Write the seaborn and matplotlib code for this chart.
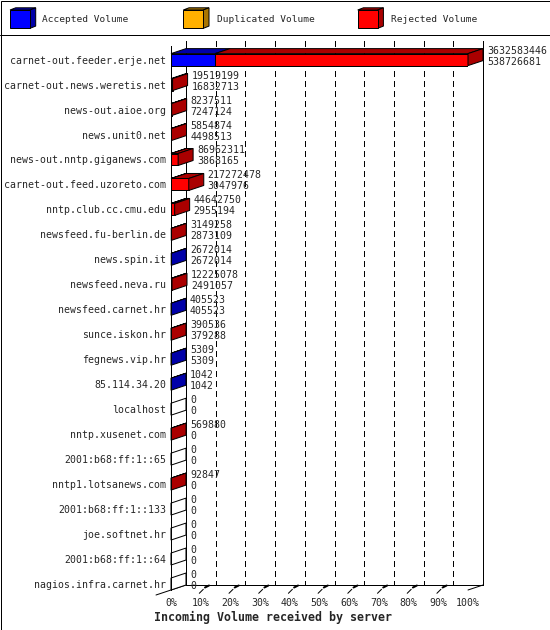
import matplotlib
matplotlib.use("Agg")
import matplotlib.pyplot as plt
from matplotlib.patches import Polygon, Rectangle
from matplotlib.lines import Line2D
import seaborn as sns
import numpy as np

# ---------------- data ----------------
hosts = [
    "carnet-out.feeder.erje.net", "carnet-out.news.weretis.net", "news-out.aioe.org",
    "news.unit0.net", "news-out.nntp.giganews.com", "carnet-out.feed.uzoreto.com",
    "nntp.club.cc.cmu.edu", "newsfeed.fu-berlin.de", "news.spin.it", "newsfeed.neva.ru",
    "newsfeed.carnet.hr", "sunce.iskon.hr", "fegnews.vip.hr", "85.114.34.20", "localhost",
    "nntp.xusenet.com", "2001:b68:ff:1::65", "nntp1.lotsanews.com", "2001:b68:ff:1::133",
    "joe.softnet.hr", "2001:b68:ff:1::64", "nagios.infra.carnet.hr",
]
total_volume = [
    3632583446, 19519199, 8237511, 5854874, 86962311, 217272478, 44642750, 3149258,
    2672014, 12225078, 405523, 390536, 5309, 1042, 0, 569880, 0, 92847, 0, 0, 0, 0,
]
accepted_volume = [
    538726681, 16832713, 7247124, 4498513, 3868165, 3047976, 2955194, 2873109,
    2672014, 2491057, 405523, 379288, 5309, 1042, 0, 0, 0, 0, 0, 0, 0, 0,
]
duplicated_volume = [0] * 22
legend_names = ["Accepted Volume", "Duplicated Volume", "Rejected Volume"]
x_ticks = [0, 10, 20, 30, 40, 50, 60, 70, 80, 90, 100]
title = "Incoming Volume received by server"

# ---------------- style ----------------
W, H = 550, 630
sns.set_style("white")
plt.rcParams["font.family"] = ["DejaVu Sans Mono"]
plt.rcParams["lines.scale_dashes"] = False
MONO = "DejaVu Sans Mono"
FS = 7.1
PX = 0.72  # one pixel in points

front = {"acc": "#0000FF", "dup": "#FFB000", "rej": "#FF0000"}
dark = {"acc": "#0000A8", "dup": "#AA7500", "rej": "#AA0000"}

fig = plt.figure(figsize=(W / 100, H / 100), dpi=100)
fig.patch.set_facecolor("white")

def fx(x):
    return x / W

def fy(y):
    return 1 - y / H

ax_left, ax_right, ax_top, ax_bot = 171, 468, 45.7, 590
ax = fig.add_axes([fx(ax_left), fy(ax_bot), (ax_right - ax_left) / W, (ax_bot - ax_top) / H])
ax.patch.set_alpha(0)

n = len(hosts)
vmax = max(total_volume)
tot_pct = np.array(total_volume) / vmax * 100
acc_pct = np.array(accepted_volume) / vmax * 100
accdup_pct = (np.array(accepted_volume) + np.array(duplicated_volume)) / vmax * 100
bar_h = 0.48

common = dict(y=hosts, orient="h", width=bar_h, edgecolor="black", linewidth=PX,
              errorbar=None, ax=ax, zorder=2, order=hosts)
sns.barplot(x=tot_pct, color=front["rej"], saturation=1, **common)
sns.barplot(x=accdup_pct, color=front["dup"], saturation=1, **common)
sns.barplot(x=acc_pct, color=front["acc"], saturation=1, **common)

ymin_data = -0.557
ymax_data = (n - 1) + bar_h / 2
ax.set_xlim(0, 100)
ax.set_ylim(ymax_data, ymin_data)

# pixel -> data offsets for the 3d depth
ppx = (ax_right - ax_left) / 100.0
ppy = (ax_bot - ax_top) / (ymax_data - ymin_data)
DX = 15 / ppx
DY = -5 / ppy

def px2dx(p):
    return p / ppx

def px2dy(p):
    return p / ppy  # positive = down

# back wall and grid
for t in x_ticks:
    ls = "-" if t in (0, 100) else (0, (3.6, 2.9))
    ax.add_line(Line2D([t + DX, t + DX], [ymin_data + DY, ymax_data + DY], color="black",
                       lw=PX, linestyle=ls, clip_on=False, zorder=0.5, antialiased=False))
# floor
ax.add_line(Line2D([DX, 100 + DX], [ymax_data + DY, ymax_data + DY], color="black", lw=PX,
                   clip_on=False, zorder=0.5))
ax.add_line(Line2D([-DX, DX], [ymax_data - DY, ymax_data + DY], color="black", lw=PX,
                   clip_on=False, zorder=0.5))
ax.add_line(Line2D([100, 100 + DX], [ymax_data, ymax_data + DY], color="black", lw=PX,
                   clip_on=False, zorder=0.5))
for t in x_ticks[1:-1]:
    ax.add_line(Line2D([t - px2dx(1.4), t + px2dx(2.6)], [ymax_data + px2dy(3.3), ymax_data - px2dy(0.7)],
                       color="black", lw=PX, clip_on=False, zorder=0.6))
    ax.add_line(Line2D([t + px2dx(4.3), t + px2dx(8.3)], [ymax_data - px2dy(2.5), ymax_data - px2dy(4.5)],
                       color="black", lw=2 * PX, clip_on=False, zorder=0.6))

# 3d faces
for i in range(n):
    top = i - bar_h / 2
    bot = i + bar_h / 2
    segs = [("acc", 0, acc_pct[i]), ("dup", acc_pct[i], accdup_pct[i]), ("rej", accdup_pct[i], tot_pct[i])]
    last = None
    for key, a, b in segs:
        if b > a:
            last = key
            ax.add_patch(Polygon([(a, top), (b, top), (b + DX, top + DY), (a + DX, top + DY)],
                                 closed=True, facecolor=dark[key], edgecolor="black", lw=PX,
                                 zorder=2.1, clip_on=False))
    end = tot_pct[i]
    side_col = dark[last] if last else "white"
    ax.add_patch(Polygon([(end, top), (end + DX, top + DY), (end + DX, bot + DY), (end, bot)],
                         closed=True, facecolor=side_col, edgecolor="black", lw=PX,
                         zorder=2.2, clip_on=False))
    ax.annotate(str(total_volume[i]), (end, i), xytext=(19, 9), textcoords="offset pixels",
                ha="left", va="center", fontsize=FS, family=MONO, zorder=3, annotation_clip=False)
    ax.annotate(str(accepted_volume[i]), (end, i), xytext=(19, -2), textcoords="offset pixels",
                ha="left", va="center", fontsize=FS, family=MONO, zorder=3, annotation_clip=False)

# axes cosmetics
for s in ["top", "right", "bottom"]:
    ax.spines[s].set_visible(False)
ax.spines["left"].set_linewidth(PX)
ax.spines["left"].set_color("black")
ax.set_xticks(x_ticks)
ax.set_xticklabels([f"{t}%" for t in x_ticks], fontsize=FS, family=MONO)
ax.set_yticks(range(n))
ax.set_yticklabels(hosts, fontsize=FS, family=MONO)
ax.tick_params(axis="x", length=0, pad=5.5)
ax.tick_params(axis="y", length=0, pad=3.6)
ax.set_xlabel("")
ax.set_ylabel("")
ax.grid(False)

# title
fig.text(fx(273.5), fy(617), title, ha="center", va="center", fontsize=8.4,
         family=MONO, weight="bold")

# legend cubes
leg_x = [10, 183.3, 357.7]
leg_tx = [42.3, 216.7, 390.7]
for (key, lx, tx, name) in zip(["acc", "dup", "rej"], leg_x, leg_tx, legend_names):
    x0, x1, y0, y1 = lx, lx + 20, 10, 28.3
    d, e = 5.7, 2.2
    fig.patches.append(Polygon([(fx(x0), fy(y0)), (fx(x1), fy(y0)), (fx(x1 + d), fy(y0 - e)),
                                (fx(x0 + d), fy(y0 - e))], closed=True, facecolor=dark[key],
                               edgecolor="black", lw=PX, transform=fig.transFigure))
    fig.patches.append(Polygon([(fx(x1), fy(y0)), (fx(x1 + d), fy(y0 - e)), (fx(x1 + d), fy(y1 - e)),
                                (fx(x1), fy(y1))], closed=True, facecolor=dark[key],
                               edgecolor="black", lw=PX, transform=fig.transFigure))
    fig.patches.append(Rectangle((fx(x0), fy(y1)), (x1 - x0) / W, (y1 - y0) / H, facecolor=front[key],
                                 edgecolor="black", lw=PX, transform=fig.transFigure))
    fig.text(fx(tx), fy(20), name, ha="left", va="center", fontsize=6.8, family=MONO)

# frame and separator
fig.patches.append(Rectangle((fx(0.5), fy(629.5)), 549 / W, 629 / H, facecolor="none",
                             edgecolor="black", lw=PX, transform=fig.transFigure))
fig.lines.append(Line2D([fx(0), fx(550)], [fy(35), fy(35)], color="black", lw=PX,
                        transform=fig.transFigure))

fig.savefig("out.png", dpi=100)
